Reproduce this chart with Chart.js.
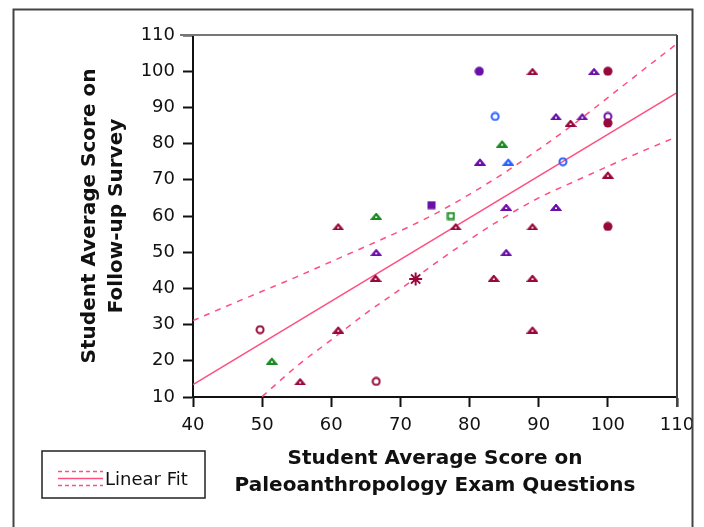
<!DOCTYPE html>
<html>
<head>
<meta charset="utf-8">
<script src="https://cdn.jsdelivr.net/npm/chart.js@4.4.1/dist/chart.umd.min.js"></script>
<style>
html,body{margin:0;padding:0;background:#fff;}
#wrap{width:704px;height:527px;}
</style>
</head>
<body>
<div id="wrap"><canvas id="c" width="704" height="527"></canvas></div>
<script>
// ---- tick labels ----
const xTicks = [40, 50, 60, 70, 80, 90, 100, 110];
const yTicks = [10, 20, 30, 40, 50, 60, 70, 80, 90, 100, 110];

// ---- observed points [exam score, survey score] grouped by marker ----
const maroonTriangles = [[89.1,100],[94.6,85.7],[100,71.4],[78,57.1],[89.1,57.1],[83.5,42.9],[89.1,42.9],[89.1,28.6],[61,57.1],[66.4,42.9],[61,28.6],[55.5,14.3]];
const maroonDots = [[100,100],[100,85.7],[100,57.1]];
const maroonRings = [[49.7,28.6],[66.5,14.3]];
const maroonStar = [[72.2,42.6]];
const purpleTriangles = [[98,100],[92.5,87.5],[96.3,87.5],[81.5,75],[85.3,62.5],[92.5,62.5],[85.3,50],[66.5,50]];
const purpleDots = [[81.4,100]];
const purpleRings = [[100,87.5]];
const purpleSquares = [[74.5,63]];
const blueRings = [[83.7,87.5],[93.5,75]];
const blueTriangles = [[85.6,75]];
const greenTriangles = [[84.7,80],[66.5,60],[51.4,20]];
const greenSquares = [[77.3,60]];

// ---- linear fit and confidence curves ----
const fitX = [40, 110];
const fitY = [13.4, 94.1];
const upperX = [40,45,50,55,60,65,70,75,80,85,90,95,100,105,110];
const upperY = [31.1,35.2,39.2,43.2,47.4,51.6,55.9,60.6,66.0,71.9,78.4,85.3,92.7,100.2,107.6];
const lowerX = [50,55,60,65,70,75,80,85,90,95,100,105,110];
const lowerY = [10.1,18.5,25.8,33.1,39.8,46.9,53.5,59.6,65.0,69.4,73.7,77.9,81.9];

const MAROON = '#98083c', PURPLE = '#6a10a8', BLUE = '#2a62ff', GREEN = '#1a8a22', PINK = '#ff4f80';

function mk(w,h,fn){const c=document.createElement('canvas');c.width=w;c.height=h;fn(c.getContext('2d'));return c;}
const tri = col => mk(12,8,g=>{g.fillStyle=col;g.strokeStyle=col;g.lineWidth=1;g.beginPath();g.moveTo(0.5,7.5);g.lineTo(6,1);g.lineTo(11.5,7.5);g.closePath();g.fill();g.stroke();g.fillStyle='#fff';g.fillRect(5,4.5,2,1.5);});
const dot = col => mk(10,10,g=>{g.fillStyle=col;g.beginPath();g.arc(5,5,4.6,0,Math.PI*2);g.fill();});
const ring = col => mk(10,10,g=>{g.strokeStyle=col;g.lineWidth=2;g.beginPath();g.arc(5,5,3.5,0,Math.PI*2);g.stroke();});
const sq = col => mk(9,9,g=>{g.fillStyle=col;g.fillRect(0.5,0.5,8,8);});
const osq = col => mk(9,9,g=>{g.strokeStyle=col;g.lineWidth=2;g.strokeRect(1.5,1.5,6,6);});

const pts = a => a.map(p => ({x:p[0], y:p[1]}));
const xy = (xs, ys) => xs.map((x,i) => ({x, y: ys[i]}));

function markerSet(label, arr, style){
  return {label, data: pts(arr), pointStyle: style, pointRadius: 5, pointHoverRadius: 5, showLine:false, order:0};
}

const datasets = [
  markerSet('maroon triangles', maroonTriangles, tri(MAROON)),
  markerSet('maroon dots', maroonDots, dot(MAROON)),
  markerSet('maroon rings', maroonRings, ring(MAROON)),
  {label:'mean', data: pts(maroonStar), pointStyle:'star', pointRadius:6.5, borderColor:MAROON, borderWidth:2, showLine:false, order:0},
  markerSet('purple triangles', purpleTriangles, tri(PURPLE)),
  markerSet('purple dots', purpleDots, dot(PURPLE)),
  markerSet('purple rings', purpleRings, ring(PURPLE)),
  markerSet('purple squares', purpleSquares, sq(PURPLE)),
  markerSet('blue rings', blueRings, ring(BLUE)),
  markerSet('blue triangles', blueTriangles, tri(BLUE)),
  markerSet('green triangles', greenTriangles, tri(GREEN)),
  markerSet('green squares', greenSquares, osq(GREEN)),
  {label:'Linear Fit', data: xy(fitX, fitY), showLine:true, borderColor:PINK, borderWidth:1.5, pointRadius:0, order:1},
  {label:'Upper', data: xy(upperX, upperY), showLine:true, borderColor:PINK, borderWidth:1.5, borderDash:[6,6], pointRadius:0, cubicInterpolationMode:'monotone', order:1},
  {label:'Lower', data: xy(lowerX, lowerY), showLine:true, borderColor:PINK, borderWidth:1.5, borderDash:[6,6], pointRadius:0, cubicInterpolationMode:'monotone', order:1}
];

const decor = {
  id:'decor',
  beforeDraw(chart){
    const g = chart.ctx;
    g.save();
    g.fillStyle='#fff'; g.fillRect(0,0,chart.width,chart.height);
    g.restore();
  },
  afterDraw(chart){
    const g = chart.ctx, a = chart.chartArea;
    g.save();
    // outer frame
    g.strokeStyle='#444'; g.lineWidth=2;
    g.beginPath(); g.moveTo(13.5,530); g.lineTo(13.5,9.5); g.lineTo(692.5,9.5); g.lineTo(692.5,530); g.stroke();
    // top / right plot border
    g.strokeStyle='#777'; g.lineWidth=2;
    g.beginPath(); g.moveTo(a.left-13, a.top); g.lineTo(a.right, a.top); g.stroke();
    g.strokeStyle='#444';
    g.beginPath(); g.moveTo(a.right, a.top); g.lineTo(a.right, a.bottom+10); g.stroke();
    // legend
    g.strokeStyle='#222'; g.lineWidth=1.5;
    g.strokeRect(42, 451, 163, 47);
    g.strokeStyle=PINK; g.lineWidth=1.5;
    g.setLineDash([4,3]);
    g.beginPath(); g.moveTo(58,471.5); g.lineTo(103,471.5); g.stroke();
    g.beginPath(); g.moveTo(58,485.5); g.lineTo(103,485.5); g.stroke();
    g.setLineDash([]);
    g.beginPath(); g.moveTo(58,478.5); g.lineTo(103,478.5); g.stroke();
    g.fillStyle='#111'; g.font='18px "DejaVu Sans"'; g.textBaseline='middle'; g.textAlign='left';
    g.fillText('Linear Fit', 105, 480);
    g.restore();
  }
};

const tickFont = {family:'"DejaVu Sans"', size:18};
const titleFont = {family:'"DejaVu Sans"', size:20, weight:'bold', lineHeight:1.35};

new Chart(document.getElementById('c'), {
  type:'scatter',
  data:{datasets},
  options:{
    responsive:false, animation:false, devicePixelRatio:1,
    layout:{padding:{top:35, right:27, left:0, bottom:0}},
    plugins:{legend:{display:false}, tooltip:{enabled:false}},
    scales:{
      x:{
        type:'linear', min:40, max:110,
        afterBuildTicks(s){ s.ticks = xTicks.map(v=>({value:v})); },
        afterFit(s){ s.height = 130; },
        ticks:{font:tickFont, color:'#111', padding:8, maxRotation:0, autoSkip:false},
        grid:{drawOnChartArea:false, tickLength:10, tickWidth:2, tickColor:'#111'},
        border:{color:'#111', width:2},
        title:{display:true, text:['Student Average Score on','Paleoanthropology Exam Questions'], font:titleFont, color:'#111', padding:{top:0, bottom:28}}
      },
      y:{
        type:'linear', min:10, max:110,
        afterBuildTicks(s){ s.ticks = yTicks.map(v=>({value:v})); },
        afterFit(s){ s.width = 193; },
        ticks:{font:tickFont, color:'#111', padding:8, autoSkip:false},
        grid:{drawOnChartArea:false, tickLength:10, tickWidth:2, tickColor:'#111'},
        border:{color:'#111', width:2},
        title:{display:true, text:['Student Average Score on','Follow-up Survey'], font:titleFont, color:'#111', padding:{top:76, bottom:0}}
      }
    }
  },
  plugins:[decor]
});
</script>
</body>
</html>
